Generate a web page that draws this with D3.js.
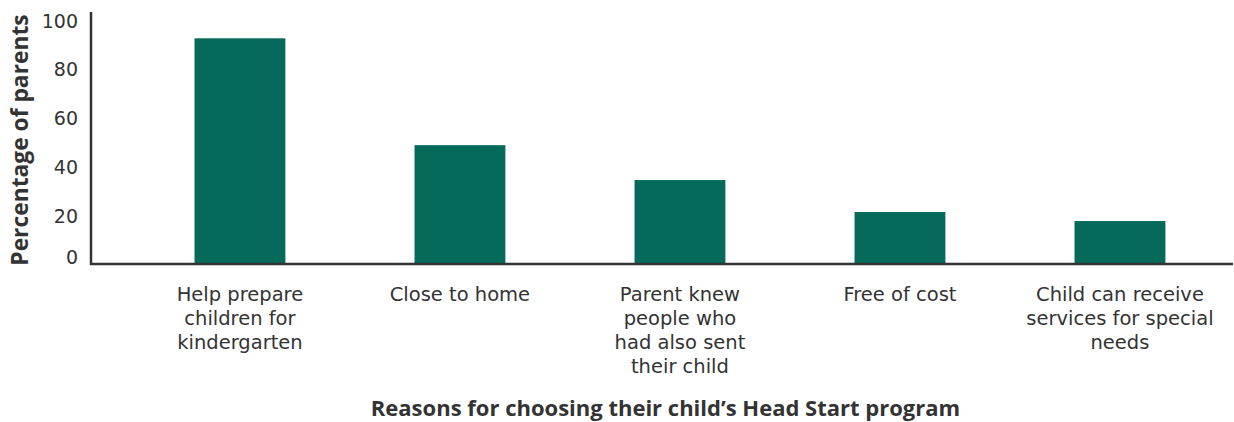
<!DOCTYPE html>
<html><head><meta charset="utf-8">
<script src="https://cdn.jsdelivr.net/npm/d3@7"></script>
<style>body{margin:0;background:#fff}svg{display:block}</style>
</head><body>
<svg id="c" width="1234" height="422"></svg>
<script>
const categories = [
  ["Help prepare","children for","kindergarten"],
  ["Close to home"],
  ["Parent knew","people who","had also sent","their child"],
  ["Free of cost"],
  ["Child can receive","services for special","needs"]
];
const values = [92.3, 48.5, 34.2, 21.1, 17.4];
const yTicks = [0, 20, 40, 60, 80, 100];
const yTitle = "Percentage of parents";
const xTitle = "Reasons for choosing their child\u2019s Head Start program";

const svg = d3.select("#c");
const font = "DejaVu Sans, sans-serif";
const boldFont = "Open Sans, sans-serif";
const txt = "#333";
const x = d3.scaleBand().domain(d3.range(categories.length)).range([128.5, 1231.4]).paddingInner(0.587).paddingOuter(0.3);
const y = d3.scaleLinear().domain([0, 100]).range([263.5, 19.5]);

svg.selectAll("rect.bar").data(values).join("rect")
  .attr("class","bar")
  .attr("x", (d,i)=>x(i)).attr("width", x.bandwidth())
  .attr("y", d=>y(d)).attr("height", d=>y(0)-y(d))
  .attr("fill", "#066a5b");

// y axis
const ya = svg.append("g").attr("transform","translate(91,0)")
  .call(d3.axisLeft(y).tickValues(yTicks).tickSize(0).tickPadding(13));
ya.select(".domain").remove();
ya.selectAll("text").attr("font-family", font).attr("font-size", 19).attr("fill", txt)
  .attr("dy", d => d === 0 ? "0em" : "0.4em");
svg.append("line").attr("x1",91).attr("x2",91).attr("y1",12).attr("y2",y(0)+1.5)
  .attr("stroke","#333").attr("stroke-width",2.5);
svg.append("line").attr("x1",90).attr("x2",1233).attr("y1",y(0)+0.5).attr("y2",y(0)+0.5)
  .attr("stroke","#333").attr("stroke-width",2.5);

// x labels
categories.forEach((lines,i)=>{
  const t = svg.append("text").attr("text-anchor","middle")
    .attr("font-family",font).attr("font-size",19.5).attr("fill",txt);
  lines.forEach((l,j)=>{
    t.append("tspan").attr("x", x(i)+x.bandwidth()/2).attr("y", 300.5 + j*24).text(l);
  });
});

svg.append("text").attr("transform","translate(28,140) rotate(-90)")
  .attr("text-anchor","middle").attr("font-family",boldFont).attr("font-weight","bold")
  .attr("font-size",22.8).attr("fill",txt).text(yTitle);
svg.append("text").attr("x",665.5).attr("y",415.5).attr("text-anchor","middle")
  .attr("font-family",boldFont).attr("font-weight","bold")
  .attr("font-size",22).attr("fill",txt).text(xTitle);
</script>
</body></html>
